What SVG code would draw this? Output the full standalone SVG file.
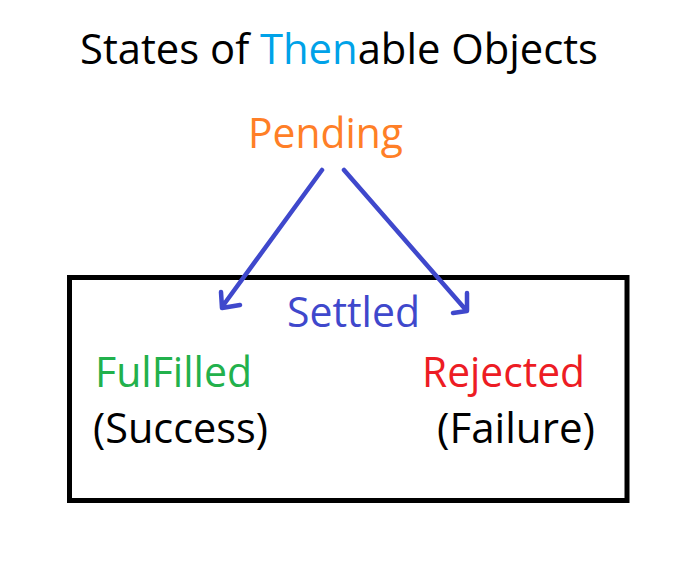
<svg xmlns="http://www.w3.org/2000/svg" width="697" height="583" viewBox="0 0 697 583">
<style>
text{font-family:"Open Sans","Noto Sans","Liberation Sans",sans-serif;font-size:42px}
.arrow{fill:none;stroke:#3F48CC;stroke-width:4.5;stroke-linecap:round;stroke-linejoin:round}
</style>
<rect width="697" height="583" fill="#fff"/>
<g id="title"><text x="80" y="64" textLength="518" lengthAdjust="spacingAndGlyphs" fill="#000">States of <tspan fill="#00A2E8">Then</tspan>able Objects</text></g>
<g id="pending"><text x="248" y="148" textLength="155" lengthAdjust="spacingAndGlyphs" fill="#FF7F27">Pending</text></g>
<g id="settled">
<rect x="69.5" y="277.5" width="557.5" height="223" fill="none" stroke="#000" stroke-width="5"/>
<text x="287" y="327" textLength="133" lengthAdjust="spacingAndGlyphs" fill="#3F48CC">Settled</text>
</g>
<g id="fulfilled">
<text x="95" y="387" textLength="157" lengthAdjust="spacingAndGlyphs" fill="#22B14C">FulFilled</text>
<text x="93" y="443" textLength="175" lengthAdjust="spacingAndGlyphs" fill="#000">(Success)</text>
</g>
<g id="rejected">
<text x="422" y="387" textLength="163" lengthAdjust="spacingAndGlyphs" fill="#ED1C24">Rejected</text>
<text x="437" y="443" textLength="158" lengthAdjust="spacingAndGlyphs" fill="#000">(Failure)</text>
</g>
<g id="connectors">
<path class="arrow" d="M322,170 L222,307 M221,292 L222,308 L240,305"/>
<path class="arrow" d="M344,170 L466,310 M467,293 L467,311 L453,313"/>
</g>
</svg>
